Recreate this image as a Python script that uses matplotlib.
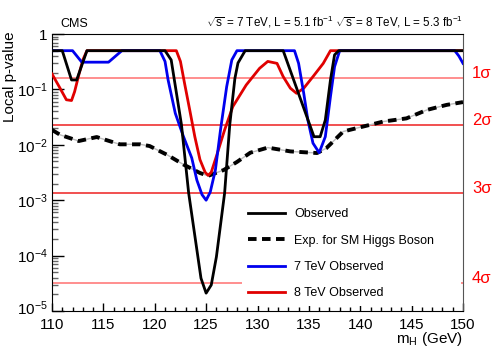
import numpy as np
import matplotlib
matplotlib.use('Agg')
import matplotlib.pyplot as plt
import matplotlib.transforms as mtransforms
from matplotlib.ticker import FixedLocator, NullFormatter, MultipleLocator

plt.rcParams['font.family'] = ['Liberation Sans', 'DejaVu Sans']
plt.rcParams['mathtext.fontset'] = 'custom'
plt.rcParams['mathtext.rm'] = 'Liberation Sans'
plt.rcParams['mathtext.it'] = 'Liberation Sans:italic'

# observed (combined)
obs_x = [110, 111.0, 111.9, 112.4, 113.4, 121.0, 121.6, 122.6, 123.3, 124.5, 125.0, 125.5,
         126.0, 126.8, 127.3, 127.8, 128.1, 128.8, 132.5, 135.5, 136.1, 136.6, 137.1, 137.5,
         137.9, 150]
obs_p = [0.5, 0.5, 0.148, 0.148, 0.5, 0.5, 0.34, 0.023, 0.00135, 3.9e-5, 2.1e-5, 2.95e-5,
         9.5e-5, 0.00135, 0.023, 0.158, 0.30, 0.5, 0.5, 0.014, 0.014, 0.028, 0.148, 0.42,
         0.5, 0.5]

# expected for SM Higgs
exp_x = [110, 110.8, 112.6, 114.35, 116.6, 118.6, 119.5, 121.2, 122.8, 124.4, 125.2, 126.7,
         128.0, 129.3, 131.0, 133.2, 135.8, 136.7, 138.35, 140.3, 142.25, 144.5, 146.5,
         148.4, 150]
exp_p = [0.0186, 0.0151, 0.0117, 0.0138, 0.0102, 0.0102, 0.0095, 0.0066, 0.0044, 0.0031,
         0.00275, 0.0035, 0.0049, 0.0072, 0.0089, 0.0076, 0.0071, 0.0087, 0.0174, 0.0214,
         0.0263, 0.030, 0.0427, 0.0525, 0.059]

# 7 TeV observed
b7_x = [110, 112.0, 112.9, 115.5, 116.8, 120.5, 121.0, 121.3, 122.0, 122.8, 123.6, 124.1,
        124.6, 125.0, 125.4, 125.9, 126.4, 127.0, 127.5, 128.0, 133.6, 134.0, 134.5, 134.9,
        135.4, 136.0, 136.6, 137.1, 137.5, 138.0, 149.2, 149.6, 150]
b7_p = [0.5, 0.5, 0.31, 0.31, 0.5, 0.5, 0.32, 0.148, 0.037, 0.014, 0.0058, 0.0023,
        0.00126, 0.001, 0.0014, 0.0035, 0.0186, 0.112, 0.34, 0.5, 0.5, 0.295, 0.085, 0.028,
        0.0107, 0.0072, 0.014, 0.074, 0.257, 0.5, 0.5, 0.4, 0.295]

# 8 TeV observed
r8_x = [110, 110.7, 111.4, 111.9, 112.2, 112.6, 113.0, 113.4, 122.1, 122.5, 122.9, 123.4,
        123.9, 124.4, 124.9, 125.2, 125.5, 126.0, 126.8, 127.6, 128.9, 130.2, 131.0, 131.9,
        132.5, 133.2, 133.8, 134.5, 135.4, 136.4, 137.1, 150]
r8_p = [0.19, 0.112, 0.065, 0.063, 0.091, 0.18, 0.34, 0.5, 0.5, 0.32, 0.129, 0.043,
        0.014, 0.0054, 0.0032, 0.0028, 0.0032, 0.0062, 0.0186, 0.049, 0.12, 0.24, 0.32, 0.295,
        0.17, 0.105, 0.085, 0.105, 0.17, 0.295, 0.5, 0.5]

sig_p = [0.1587, 0.02275, 0.00135, 3.17e-5]
sig_lab = ['1\u03c3', '2\u03c3', '3\u03c3', '4\u03c3']
sig_col = ['#ff7070', '#ee2020', '#ee2020', '#ff7070']

ytick_vals = [1e-5, 1e-4, 1e-3, 1e-2, 1e-1, 1]
ytick_labs = ['10$^{-5}$', '10$^{-4}$', '10$^{-3}$', '10$^{-2}$', '10$^{-1}$', '1']

fig = plt.figure(figsize=(4.98, 3.58), dpi=100)
ax = fig.add_axes([52/498, 47/358, 411/498, 277/358])

for p, c in zip(sig_p, sig_col):
    ax.axhline(p, color=c, lw=1.1, zorder=1)

ax.plot(exp_x, exp_p, color='#bbbbbb', lw=1, zorder=2)
ax.plot(exp_x, exp_p, color='black', lw=2.8, dashes=(2.2, 1.4), zorder=3,
        label='Exp. for SM Higgs Boson')
ax.plot(r8_x, r8_p, color='#e00000', lw=2, zorder=4, label='8 TeV Observed')
ax.plot(b7_x, b7_p, color='#0000ee', lw=2, zorder=5, label='7 TeV Observed')
ax.plot(obs_x, obs_p, color='black', lw=2, zorder=6, label='Observed')

ax.set_yscale('log')
ax.set_xlim(110, 150)
ax.set_ylim(1e-5, 1)

ax.yaxis.set_major_locator(FixedLocator(ytick_vals))
ax.set_yticklabels(ytick_labs)
ax.yaxis.set_minor_locator(FixedLocator(
    [m * 10.0**e for e in range(-5, 0) for m in range(2, 10)]))
ax.yaxis.set_minor_formatter(NullFormatter())
ax.xaxis.set_major_locator(MultipleLocator(5))
ax.xaxis.set_minor_locator(MultipleLocator(1))

ax.tick_params(axis='y', which='major', direction='in', length=8.5, width=1, labelsize=11, pad=3)
ax.tick_params(axis='y', which='minor', direction='in', length=4.3, width=1, color='#666666')
ax.tick_params(axis='x', which='major', direction='in', length=5.8, width=1, labelsize=11, pad=5)
ax.tick_params(axis='x', which='minor', direction='in', length=2.9, width=1)
for s in ['left', 'bottom', 'top']:
    ax.spines[s].set_color('black')
ax.spines['right'].set_color('#555555')

# nudge the lowest y label up so it clears the "110" below it
lab0 = ax.get_yticklabels()[0]
lab0.set_transform(lab0.get_transform() +
                   mtransforms.ScaledTranslation(0, 3/72, fig.dpi_scale_trans))

ax.set_ylabel('Local p-value', fontsize=11, loc='top')
ax.yaxis.set_label_coords(-0.085, 1.01)
ax.set_xlabel('m$_{\\mathrm{H}}$ (GeV)', fontsize=11, loc='right')
ax.xaxis.set_label_coords(1.0, -0.07)

for p, lab in zip(sig_p, sig_lab):
    ax.text(1.022, p * 1.2, lab, color='red', fontsize=12, va='center', ha='left',
            transform=ax.get_yaxis_transform())

handles, labels = ax.get_legend_handles_labels()
order = [3, 0, 2, 1]
leg = ax.legend([handles[i] for i in order], [labels[i] for i in order],
                loc='upper left',
                bbox_to_anchor=((242 - 52) / 411, (311 - 308) / 277, 219 / 411, 106 / 277),
                mode='expand',
                fontsize=9, frameon=True, facecolor='white', edgecolor='none',
                framealpha=1, fancybox=False, handlelength=2.95, handletextpad=0.75,
                labelspacing=1.15, borderpad=0.5, borderaxespad=0)
leg.set_zorder(10)

fig.text(60/498, 1 - 27/358, 'CMS', fontsize=9, va='baseline', ha='left')
fig.text(463/498, 1 - 27/358,
         '$\\sqrt{\\mathrm{s}}$ = 7 TeV, L = 5.1 fb$^{-1}$ $\\sqrt{\\mathrm{s}}$ = 8 TeV, L = 5.3 fb$^{-1}$',
         fontsize=8.4, va='baseline', ha='right')

fig.savefig('out.png', dpi=100)
